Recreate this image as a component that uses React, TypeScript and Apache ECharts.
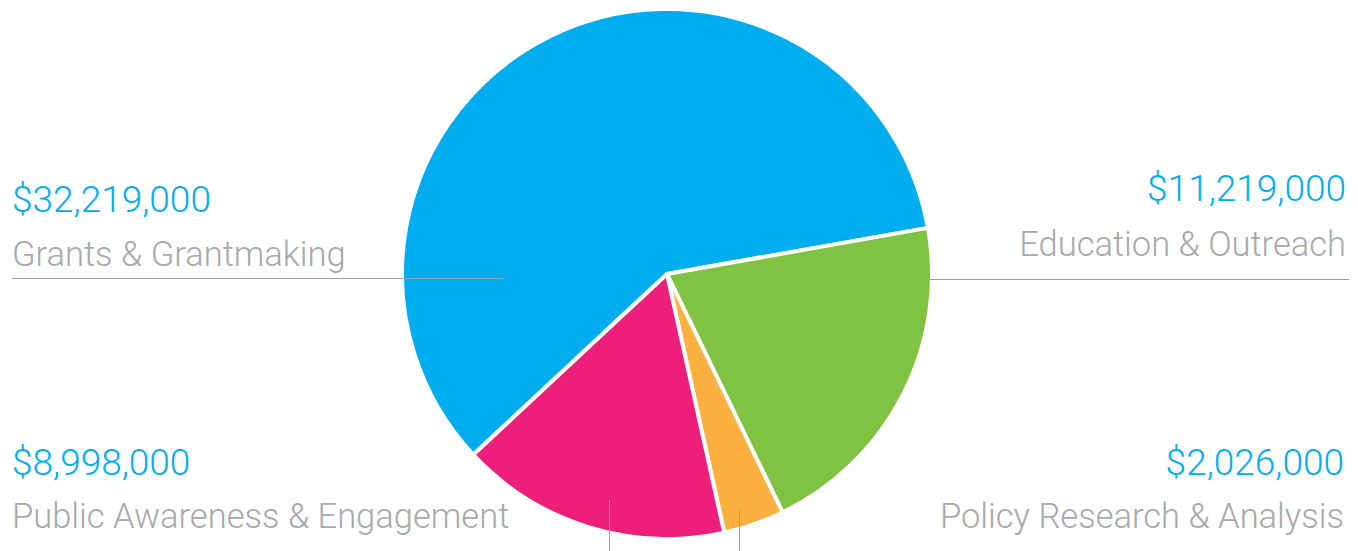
import React, { useEffect, useRef } from "react";
import * as echarts from "echarts";

const categories = [
  "Grants & Grantmaking",
  "Education & Outreach",
  "Policy Research & Analysis",
  "Public Awareness & Engagement",
];
const values = [32219000, 11219000, 2026000, 8998000];
const colors = ["#00AEEF", "#80C242", "#FBB040", "#EE1F7A"];
const valueLabels = ["$32,219,000", "$11,219,000", "$2,026,000", "$8,998,000"];

export default function App() {
  const ref = useRef<HTMLDivElement>(null);
  useEffect(() => {
    document.body.style.margin = "0";
    const chart = echarts.init(ref.current!, null, { renderer: "svg" });
    const font = "Roboto";
    const valStyle = (x: number, y: number, text: string, align: string) => ({
      type: "text",
      x,
      y,
      style: {
        text,
        fill: "#00AEEF",
        font: `300 37px ${font}`,
        textAlign: align,
        textVerticalAlign: "middle",
      },
    });
    const labStyle = (x: number, y: number, text: string, align: string) => ({
      type: "text",
      x,
      y,
      style: {
        text,
        fill: "#A7A9AC",
        font: `300 34.5px ${font}`,
        textAlign: align,
        textVerticalAlign: "middle",
      },
    });
    const line = (x1: number, y1: number, x2: number, y2: number) => ({
      type: "line",
      shape: { x1, y1, x2, y2 },
      style: { stroke: "#9D9FA2", lineWidth: 1 },
      z: 10,
    });
    chart.setOption({
      animation: false,
      series: [
        {
          type: "pie",
          center: [667, 274],
          radius: 265,
          startAngle: 223,
          clockwise: true,
          label: { show: false },
          labelLine: { show: false },
          emphasis: { disabled: true },
          itemStyle: { borderColor: "#fff", borderWidth: 4 },
          data: categories.map((c, i) => ({
            name: c,
            value: values[i],
            itemStyle: { color: colors[i] },
          })),
        },
      ],
      graphic: [
        line(12, 278.5, 503, 278.5),
        line(895, 279.5, 1349, 279.5),
        line(609.5, 500, 609.5, 551),
        line(739.5, 510, 739.5, 551),
        valStyle(12, 199, valueLabels[0], "left"),
        labStyle(12, 254, categories[0], "left"),
        valStyle(1346, 188, valueLabels[1], "right"),
        labStyle(1346, 244, categories[1], "right"),
        valStyle(12, 462, valueLabels[3], "left"),
        labStyle(12, 516, categories[3], "left"),
        valStyle(1344, 462, valueLabels[2], "right"),
        labStyle(1344, 516, categories[2], "right"),
      ],
    });
    return () => chart.dispose();
  }, []);
  return <div ref={ref} style={{ width: 1358, height: 551 }} />;
}
